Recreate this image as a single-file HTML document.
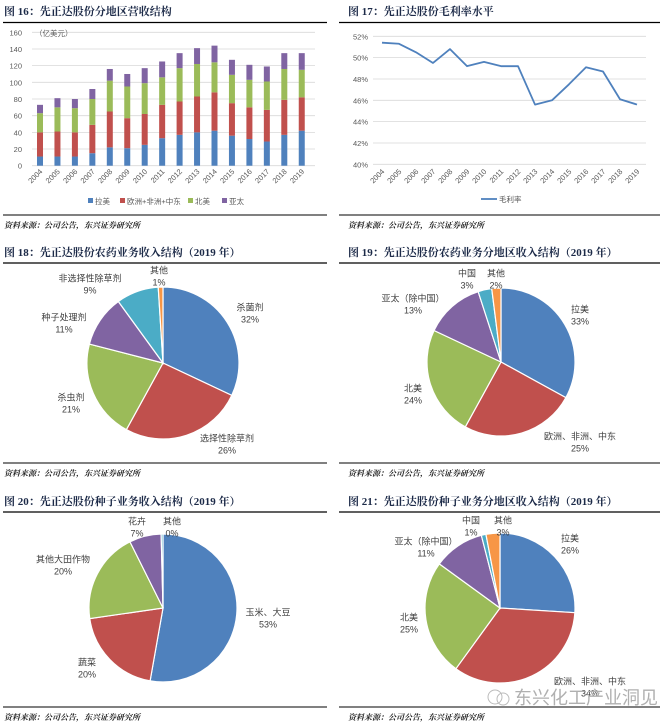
<!DOCTYPE html>
<html><head><meta charset="utf-8">
<style>
body{margin:0;background:#fff;}
svg{display:block;font-family:"Liberation Sans","Noto Sans CJK SC",sans-serif;}
.t{font-family:"Liberation Serif","Noto Serif CJK SC",serif;font-weight:bold;font-size:11px;fill:#1c2a48;}
.s{font-family:"Liberation Serif","Noto Serif CJK SC",serif;font-style:italic;font-weight:bold;font-size:8px;fill:#222;}
.ax{font-size:7.5px;fill:#595959;}
.pl{font-size:9px;fill:#404040;}
</style></head><body>
<svg id="root" width="663" height="727" viewBox="0 0 663 727">
<text class="t" x="4" y="15">图 16：先正达股份分地区营收结构</text>
<line x1="3" y1="22.5" x2="327" y2="22.5" stroke="#000" stroke-width="1.2"/>
<text class="t" x="348" y="15">图 17：先正达股份毛利率水平</text>
<line x1="339" y1="22.5" x2="660" y2="22.5" stroke="#000" stroke-width="1.2"/>
<line x1="3" y1="215" x2="327" y2="215" stroke="#000" stroke-width="1"/>
<text class="s" x="4" y="228">资料来源：公司公告，东兴证券研究所</text>
<line x1="339" y1="215" x2="660" y2="215" stroke="#000" stroke-width="1"/>
<text class="s" x="348" y="228">资料来源：公司公告，东兴证券研究所</text>

<text class="t" x="4" y="256">图 18：先正达股份农药业务收入结构（2019 年）</text>
<line x1="3" y1="263" x2="327" y2="263" stroke="#000" stroke-width="1.2"/>
<text class="t" x="348" y="256">图 19：先正达股份农药业务分地区收入结构（2019 年）</text>
<line x1="339" y1="263" x2="660" y2="263" stroke="#000" stroke-width="1.2"/>
<line x1="3" y1="463" x2="327" y2="463" stroke="#000" stroke-width="1"/>
<text class="s" x="4" y="476">资料来源：公司公告，东兴证券研究所</text>
<line x1="339" y1="463" x2="660" y2="463" stroke="#000" stroke-width="1"/>
<text class="s" x="348" y="476">资料来源：公司公告，东兴证券研究所</text>

<text class="t" x="4" y="505">图 20：先正达股份种子业务收入结构（2019 年）</text>
<line x1="3" y1="512" x2="327" y2="512" stroke="#000" stroke-width="1.2"/>
<text class="t" x="348" y="505">图 21：先正达股份种子业务分地区收入结构（2019 年）</text>
<line x1="339" y1="512" x2="660" y2="512" stroke="#000" stroke-width="1.2"/>
<line x1="3" y1="707" x2="327" y2="707" stroke="#000" stroke-width="1"/>
<text class="s" x="4" y="720">资料来源：公司公告，东兴证券研究所</text>
<line x1="339" y1="707" x2="660" y2="707" stroke="#000" stroke-width="1"/>
<text class="s" x="348" y="720">资料来源：公司公告，东兴证券研究所</text>

<g id="c16"></g><g id="c17"></g><g id="c18"></g><g id="c19"></g><g id="c20"></g><g id="c21"></g>
<g>
<circle cx="495" cy="697" r="7" fill="none" stroke="#bbb" stroke-width="1"/>
<circle cx="503" cy="699" r="6" fill="none" stroke="#bbb" stroke-width="1"/>
<text x="514" y="704" font-size="18" fill="#b0b0b0">东兴化工产业洞见</text>
</g>
</svg>
<script>
const NS="http://www.w3.org/2000/svg";
function mk(p,tag,a,txt){const e=document.createElementNS(NS,tag);for(const k in a)e.setAttribute(k,a[k]);if(txt!=null)e.textContent=txt;p.appendChild(e);return e;}

const years=["2004","2005","2006","2007","2008","2009","2010","2011","2012","2013","2014","2015","2016","2017","2018","2019"];
const latam=[11,11,11,15,22,21,25,33,37,40,42,36,32,29,37,42];
const emea=[29,30,29,34,43,36,37,40,40,43,46,39,38,38,42,40];
const namer=[23,29,29,31,37,38,37,33,40,39,36,34,33,34,37,33];
const apac=[10,11,11,12,14,15,18,19,18,19,20,18,18,18,19,20];
const y16Ticks=[0,20,40,60,80,100,120,140,160];
const seriesNames16=["拉美","欧洲+非洲+中东","北美","亚太"];
const margin=[51.4,51.3,50.5,49.5,50.8,49.2,49.6,49.2,49.2,45.6,46.0,47.5,49.1,48.7,46.1,45.6];
const y17Ticks=[40,42,44,46,48,50,52];
const p18Labels=["杀菌剂","选择性除草剂","杀虫剂","种子处理剂","非选择性除草剂","其他"];
const p18Values=[32,26,21,11,9,1];
const p19Labels=["拉美","欧洲、非洲、中东","北美","亚太（除中国）","中国","其他"];
const p19Values=[33,25,24,13,3,2];
const p20Labels=["玉米、大豆","蔬菜","其他大田作物","花卉","其他"];
const p20Values=[53,20,20,7,0.4];
const p21Labels=["拉美","欧洲、非洲、中东","北美","亚太（除中国）","中国","其他"];
const p21Values=[26,34,25,11,1,3];

const C={blue:"#4f81bd",red:"#c0504d",green:"#9bbb59",purple:"#8064a2",teal:"#4bacc6",orange:"#f79646"};

(function(){
 const g=document.getElementById("c16");
 const y0=165.7,y1=32.3,vmax=160;
 const Y=v=>y0-(v/vmax)*(y0-y1);
 const X=i=>40+i*17.45;
 y16Ticks.forEach(t=>{
  const l=mk(g,"line",{x1:32,x2:315,y1:Y(t),y2:Y(t),stroke:"#d9d9d9","stroke-width":0.8});
  
  
  const tx=mk(g,"text",{x:22,y:Y(t)+3,"text-anchor":"end",class:"ax"},String(t));
  
  
 });
 const u=mk(g,"text",{x:35,y:36,class:"ax","font-size":"8"},"（亿美元）");
 
 
 const ser=[latam,emea,namer,apac],cols=[C.blue,C.red,C.green,C.purple];
 years.forEach((yr,i)=>{
  let base=0;
  ser.forEach((s,k)=>{
   const r=mk(g,"rect",{x:X(i)-3,width:6,y:Y(base+s[i]),height:Y(base)-Y(base+s[i]),fill:cols[k]});
   
   
   base+=s[i];
  });
  const t=mk(g,"text",{x:X(i)+3,y:172,"text-anchor":"end",class:"ax",transform:`rotate(-45 ${X(i)+3} 172)`},yr);
  
  
 });
 const lx=[88,120,188,222];
 seriesNames16.forEach((n,k)=>{
  const r=mk(g,"rect",{x:lx[k],y:198,width:5,height:5,fill:cols[k]});
  
  
  const t=mk(g,"text",{x:lx[k]+7,y:204,class:"ax","font-size":"8"},n);
  
  
 });
})();

(function(){
 const g=document.getElementById("c17");
 const Y=v=>36.3+(52-v)*(128/12);
 const X=i=>382+i*17;
 y17Ticks.forEach(t=>{
  const l=mk(g,"line",{x1:373,x2:646,y1:Y(t),y2:Y(t),stroke:"#d9d9d9","stroke-width":0.8});
  
  
  const tx=mk(g,"text",{x:368,y:Y(t)+3,"text-anchor":"end",class:"ax"},t+"%");
  
  
 });
 const pts=margin.map((v,i)=>X(i)+","+Y(v)).join(" ");
 const pl=mk(g,"polyline",{points:pts,fill:"none",stroke:C.blue,"stroke-width":1.8,"stroke-linejoin":"round"});
 
 
 years.forEach((yr,i)=>{
  const t=mk(g,"text",{x:X(i)+3,y:172,"text-anchor":"end",class:"ax",transform:`rotate(-45 ${X(i)+3} 172)`},yr);
  
  
 });
 const ll=mk(g,"line",{x1:481,x2:497,y1:199,y2:199,stroke:C.blue,"stroke-width":1.8});
 
 
 const lt=mk(g,"text",{x:499,y:202,class:"ax","font-size":"8"},"毛利率");
 
 
})();

// label layout positions (center of name line)
const L18=[[250,307],[227,438],[71,397],[64,317],[90,278],[159,270]];
const L19=[[580,309],[580,436],[413,388],[413,298],[467,273],[496,273]];
const L20=[[268,612],[87,662],[63,559],[137,521],[172,521]];
const L21=[[570,538],[590,681],[409,617],[426,541],[471,520],[503,520]];

function pie(id,cx,cy,r,labels,values,cols,lp,prefix){
 const g=document.getElementById(id);
 const tot=values.reduce((a,b)=>a+b,0);
 let a=-Math.PI/2;
 values.forEach((v,i)=>{
  const da=v/tot*2*Math.PI,a2=a+da;
  const x1=cx+r*Math.cos(a),y1=cy+r*Math.sin(a),x2=cx+r*Math.cos(a2),y2=cy+r*Math.sin(a2);
  const p=mk(g,"path",{d:`M${cx},${cy} L${x1},${y1} A${r},${r} 0 ${da>Math.PI?1:0} 1 ${x2},${y2} Z`,fill:cols[i],stroke:"#fff","stroke-width":1.2});
  
  
  a=a2;
 });
 labels.forEach((lab,i)=>{
  const lx=lp[i][0],ly=lp[i][1];
  const t1=mk(g,"text",{x:lx,y:ly+3.5,"text-anchor":"middle",class:"pl"},lab);
  
  
  const t2=mk(g,"text",{x:lx,y:ly+15.5,"text-anchor":"middle",class:"pl"},Math.round(values[i])+"%");
  
  
 });
}
pie("c18",163,363,76,p18Labels,p18Values,[C.blue,C.red,C.green,C.purple,C.teal,C.orange],L18,"fig18");
pie("c19",501,362,74,p19Labels,p19Values,[C.blue,C.red,C.green,C.purple,C.teal,C.orange],L19,"fig19");
pie("c20",163,608,74,p20Labels,p20Values,[C.blue,C.red,C.green,C.purple,C.teal],L20,"fig20");
pie("c21",500,608,75,p21Labels,p21Values,[C.blue,C.red,C.green,C.purple,C.teal,C.orange],L21,"fig21");
</script>
</body></html>
